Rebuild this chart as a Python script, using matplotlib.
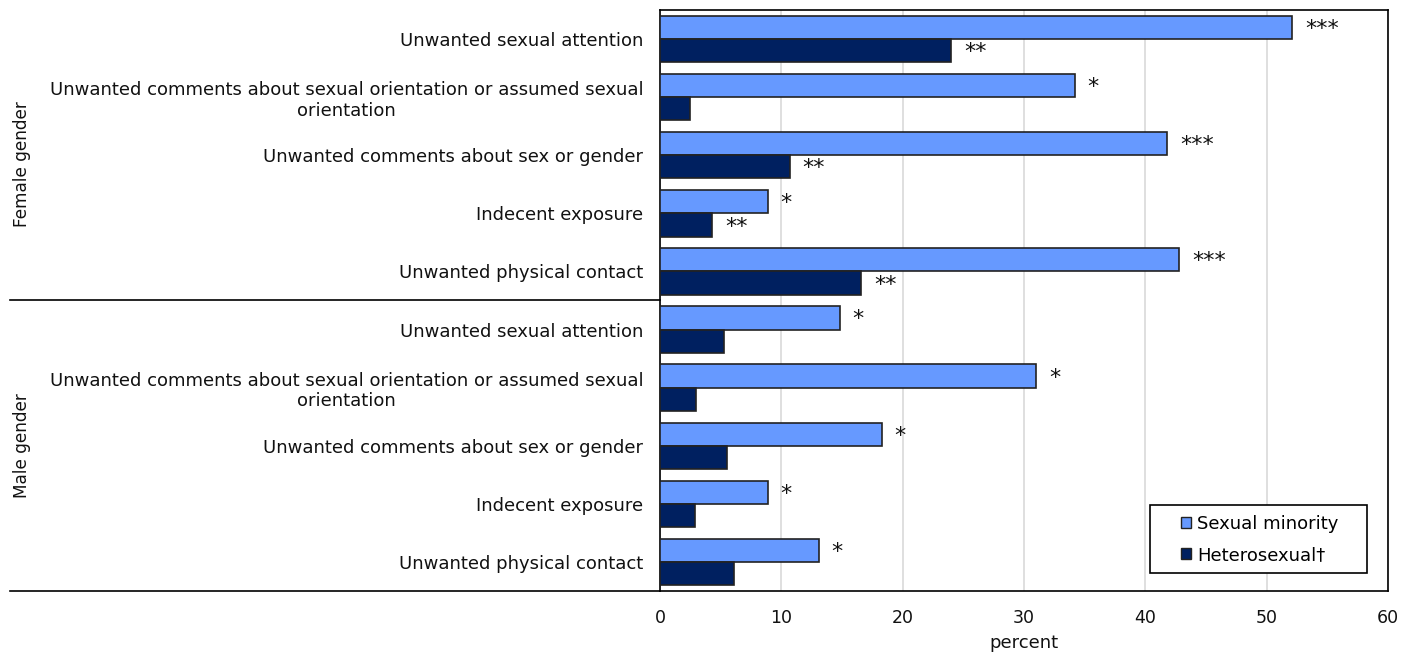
import numpy as np
import matplotlib.pyplot as plt
import matplotlib.transforms as mtransforms
from matplotlib.patches import Patch, Rectangle

categories = [
    'Unwanted sexual attention',
    'Unwanted comments about sexual orientation or assumed sexual\norientation',
    'Unwanted comments about sex or gender',
    'Indecent exposure',
    'Unwanted physical contact',
] * 2
groups = ['Female gender', 'Male gender']

minority = [52.1, 34.2, 41.8, 8.9, 42.8, 14.8, 31.0, 18.3, 8.9, 13.1]
hetero = [24.0, 2.5, 10.7, 4.3, 16.6, 5.3, 3.0, 5.5, 2.9, 6.1]
minority_sig = ['***', '*', '***', '*', '***', '*', '*', '*', '*', '*']
hetero_sig = ['**', '', '**', '**', '**', '', '', '', '', '']

c_min = '#6699FF'
c_het = '#002060'
edge = '#222222'
txt = '#111111'

fig = plt.figure(figsize=(14.13, 6.54), dpi=100)
ax = fig.add_axes([660 / 1413, 1 - 591 / 654, 728 / 1413, 581 / 654])

y = np.arange(len(categories))
h = 0.4
ax.barh(y - h / 2, minority, height=h, color=c_min, edgecolor=edge, linewidth=1.2, zorder=3)
ax.barh(y + h / 2, hetero, height=h, color=c_het, edgecolor=edge, linewidth=1.2, zorder=3)

# significance stars
for yi, v, s in zip(y, minority, minority_sig):
    if s:
        ax.text(v + 1.05, yi - h / 2 + 0.13, s, fontsize=16, va='baseline', ha='left', color=txt)
for yi, v, s in zip(y, hetero, hetero_sig):
    if s:
        ax.text(v + 1.05, yi + h / 2 + 0.13, s, fontsize=16, va='baseline', ha='left', color=txt)

ax.set_xlim(0, 60)
ax.set_ylim(9.5, -0.5)
ax.set_xticks(np.arange(0, 61, 10))
ax.set_yticks(y)
ax.set_yticklabels(categories, fontsize=13, color=txt)
for lbl in ax.get_yticklabels():
    lbl.set_multialignment('center')
ax.tick_params(axis='y', length=0, pad=12)
ax.tick_params(axis='x', length=0, pad=13, labelsize=12.5, labelcolor=txt)
ax.grid(axis='x', color='#d9d9d9', linewidth=1.2, zorder=0)
for sp in ax.spines.values():
    sp.set_color('black')
    sp.set_linewidth(1.2)
ax.set_xlabel('percent', fontsize=13, labelpad=5, color=txt)

# group separators extending into the label area
trans = mtransforms.blended_transform_factory(ax.transAxes, ax.transData)
x0 = (10 - 660) / 728
ax.plot([x0, 0], [4.5, 4.5], color='black', lw=1.2, transform=trans, clip_on=False)
ax.plot([x0, 0], [9.5, 9.5], color='black', lw=1.2, transform=trans, clip_on=False)

fig.text(22 / 1413, 1 - 164 / 654, groups[0], rotation=90, ha='center', va='center', fontsize=12.2, color=txt)
fig.text(22 / 1413, 1 - 446 / 654, groups[1], rotation=90, ha='center', va='center', fontsize=12.2, color=txt)

# legend box
ax.add_patch(Rectangle(((1150 - 660) / 728, (591 - 573) / 581), 217 / 728, 68 / 581,
                       transform=ax.transAxes, facecolor='white', edgecolor='black',
                       linewidth=1.2, zorder=5))
handles = [Patch(facecolor=c_min, edgecolor=edge, label='Sexual minority'),
           Patch(facecolor=c_het, edgecolor=edge, label='Heterosexual\u2020')]
leg = ax.legend(handles=handles, loc='center left',
                bbox_to_anchor=((1181 - 660) / 728, (591 - 539.5) / 581),
                borderaxespad=0, borderpad=0, fontsize=13, handlelength=0.55,
                handleheight=0.55, handletextpad=0.35, frameon=False, labelspacing=0.75)
leg.set_zorder(6)

fig.savefig('out.png', dpi=100)
